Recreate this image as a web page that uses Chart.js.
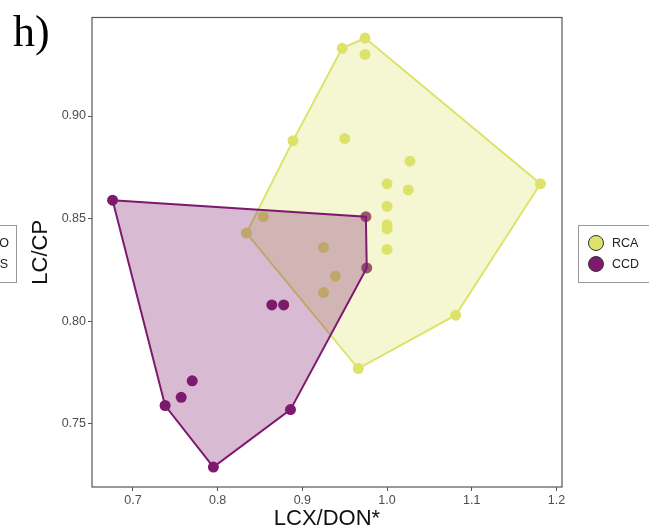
<!doctype html>
<html lang="en">
  <head>
    <meta charset="utf-8">
    <title>LC/CP vs LCX/DON*</title>
    <style>
      * {
        margin: 0;
        padding: 0;
      }
      body {
        background: #fff;
      }
    </style>
  </head>
  <body>
    <canvas id="myChart" width="649" height="532"></canvas>
    <script src="https://cdn.jsdelivr.net/npm/chart.js/dist/chart.umd.min.js"></script>
    <script>
    // values
    const groups = ['RCA', 'CCD'];
    const groupColors = ['#dde36a', '#7e1a6e'];
    const groupFills = ['rgba(221, 227, 106, 0.3)', 'rgba(126, 26, 110, 0.3)'];

    const rcaX = [0.974, 0.947, 0.974, 0.889, 0.950, 1.027, 1.000, 1.025, 1.000, 1.000,
                  1.000, 1.000, 1.181, 0.854, 0.834, 0.925, 0.939, 0.925, 1.081, 0.966];
    const rcaY = [0.938, 0.933, 0.930, 0.888, 0.889, 0.878, 0.867, 0.864, 0.856, 0.847,
                  0.845, 0.835, 0.867, 0.851, 0.843, 0.836, 0.822, 0.814, 0.803, 0.777];
    const rcaHull = [0, 12, 18, 19, 14, 3, 1, 0]; // indices into rcaX / rcaY

    const ccdX = [0.676, 0.975, 0.976, 0.864, 0.878, 0.770, 0.757, 0.738, 0.795, 0.886];
    const ccdY = [0.859, 0.851, 0.826, 0.808, 0.808, 0.771, 0.763, 0.759, 0.729, 0.757];
    const ccdHull = [0, 1, 2, 9, 8, 7, 0];

    const xTicks = [0.7, 0.8, 0.9, 1.0, 1.1, 1.2];
    const yTicks = [0.75, 0.80, 0.85, 0.90];

    const toPoints = (xs, ys) => xs.map((x, i) => ({ x: x, y: ys[i] }));
    const hullPoints = (xs, ys, idx) => idx.map(i => ({ x: xs[i], y: ys[i] }));

    // fills the hull polygon under its outline, using the element positions from the scales
    const hullFill = {
      id: 'hullFill',
      beforeDatasetDraw(chart, args) {
        const ds = chart.data.datasets[args.index];
        if (!ds.hullColor) return;
        const pts = args.meta.data;
        const ctx = chart.ctx;
        const a = chart.chartArea;
        ctx.save();
        ctx.beginPath();
        ctx.rect(a.left, a.top, a.right - a.left, a.bottom - a.top);
        ctx.clip();
        ctx.beginPath();
        pts.forEach((p, i) => (i ? ctx.lineTo(p.x, p.y) : ctx.moveTo(p.x, p.y)));
        ctx.closePath();
        ctx.fillStyle = ds.hullColor;
        ctx.fill();
        ctx.restore();
      }
    };

    // panel frame, legend box, panel tag and the clipped neighbour legend
    const decorations = {
      id: 'decorations',
      afterDraw(chart) {
        const ctx = chart.ctx;
        const a = chart.chartArea;
        ctx.save();
        ctx.strokeStyle = '#555';
        ctx.lineWidth = 1.2;
        ctx.strokeRect(a.left, a.top, a.right - a.left, a.bottom - a.top);

        // legend
        ctx.strokeStyle = '#999';
        ctx.lineWidth = 1;
        ctx.strokeRect(578.5, 225.5, 80, 57);
        ctx.font = '12.5px "Liberation Sans", Arial, sans-serif';
        ctx.textBaseline = 'middle';
        groups.forEach((g, i) => {
          const cy = 243 + i * 21;
          ctx.beginPath();
          ctx.arc(596, cy, 7.5, 0, Math.PI * 2);
          ctx.fillStyle = groupColors[i];
          ctx.fill();
          ctx.strokeStyle = '#333';
          ctx.lineWidth = 1;
          ctx.stroke();
          ctx.fillStyle = '#222';
          ctx.textAlign = 'left';
          ctx.fillText(g, 612, cy + 0.5);
        });

        // cut-off legend of the neighbouring panel
        ctx.strokeStyle = '#999';
        ctx.strokeRect(-10.5, 225.5, 27, 57);
        ctx.fillStyle = '#222';
        ctx.textAlign = 'right';
        ctx.fillText('O', 9, 243.5);
        ctx.fillText('S', 8, 264.5);

        // panel tag
        ctx.font = '44px "Liberation Serif", "Times New Roman", serif';
        ctx.textAlign = 'left';
        ctx.textBaseline = 'alphabetic';
        ctx.fillStyle = '#000';
        ctx.fillText('h)', 13, 46);
        ctx.restore();
      }
    };

    const tickFont = { family: '"Liberation Sans", Arial, sans-serif', size: 12.5 };
    const titleFont = { family: '"Liberation Sans", Arial, sans-serif', size: 22 };

    const data = {
      datasets: [
        {
          label: 'RCA points',
          data: toPoints(rcaX, rcaY),
          backgroundColor: groupColors[0],
          borderWidth: 0,
          pointRadius: 5.5,
          order: 4
        },
        {
          label: 'CCD points',
          data: toPoints(ccdX, ccdY),
          backgroundColor: groupColors[1],
          borderWidth: 0,
          pointRadius: 5.5,
          order: 3
        },
        {
          label: 'RCA hull',
          data: hullPoints(rcaX, rcaY, rcaHull),
          showLine: true,
          borderColor: groupColors[0],
          borderWidth: 2,
          pointRadius: 0,
          hullColor: groupFills[0],
          order: 2
        },
        {
          label: 'CCD hull',
          data: hullPoints(ccdX, ccdY, ccdHull),
          showLine: true,
          borderColor: groupColors[1],
          borderWidth: 2,
          pointRadius: 0,
          hullColor: groupFills[1],
          order: 1
        }
      ]
    };

    const config = {
      type: 'scatter',
      data,
      options: {
        responsive: false,
        animation: false,
        layout: { padding: { left: 0, top: 17.5, right: 87, bottom: 0 } },
        plugins: {
          legend: { display: false },
          tooltip: { enabled: false }
        },
        scales: {
          x: {
            type: 'linear',
            min: 0.6517,
            max: 1.2065,
            afterBuildTicks: (s) => { s.ticks = xTicks.map(v => ({ value: v })); },
            afterFit: (s) => { s.height = 45; },
            border: { display: false },
            grid: { drawOnChartArea: false, drawTicks: true, tickLength: 4, color: '#555' },
            ticks: {
              font: tickFont,
              color: '#4d4d4d',
              padding: 2,
              maxRotation: 0,
              callback: (v) => v.toFixed(1)
            },
            title: {
              display: true,
              text: 'LCX/DON*',
              font: titleFont,
              color: '#111',
              padding: { top: 0, bottom: 0 }
            }
          },
          y: {
            type: 'linear',
            min: 0.7193,
            max: 0.9480,
            afterBuildTicks: (s) => { s.ticks = yTicks.map(v => ({ value: v })); },
            afterFit: (s) => { s.width = 92; },
            border: { display: false },
            grid: { drawOnChartArea: false, drawTicks: true, tickLength: 4, color: '#555' },
            ticks: {
              font: tickFont,
              color: '#4d4d4d',
              padding: 2,
              callback: (v) => v.toFixed(2)
            },
            title: {
              display: true,
              text: 'LC/CP',
              font: titleFont,
              color: '#111',
              padding: { top: 28, bottom: 0 }
            }
          }
        }
      },
      plugins: [hullFill, decorations]
    };

    const myChart = new Chart(document.getElementById('myChart'), config);
    </script>
  </body>
</html>
